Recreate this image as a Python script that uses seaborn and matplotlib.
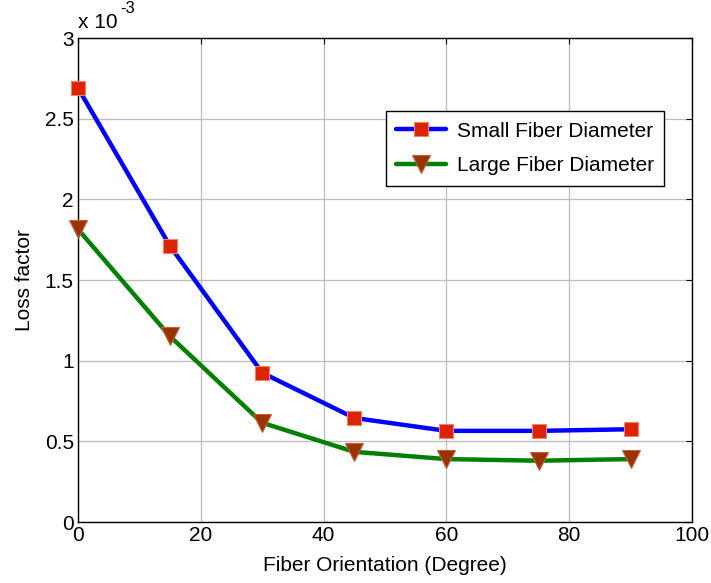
import matplotlib
matplotlib.use("Agg")
import matplotlib.pyplot as plt
from matplotlib.ticker import FuncFormatter
import seaborn as sns
import pandas as pd

orientation = [0, 15, 30, 45, 60, 75, 90]
small_fiber = [2.69e-3, 1.71e-3, 0.925e-3, 0.645e-3, 0.565e-3, 0.565e-3, 0.575e-3]
large_fiber = [1.815e-3, 1.15e-3, 0.615e-3, 0.435e-3, 0.39e-3, 0.38e-3, 0.39e-3]

sns.set_style("white")
plt.rcParams["font.family"] = ["Liberation Sans", "DejaVu Sans"]
plt.rcParams["text.color"] = "black"
plt.rcParams["axes.labelcolor"] = "black"

FS = 15

fig = plt.figure(figsize=(7.11, 5.83), dpi=100)
ax = fig.add_axes([0.1097, 0.1046, 0.8636, 0.8302])

df_s = pd.DataFrame({"x": orientation, "y": small_fiber})
df_l = pd.DataFrame({"x": orientation, "y": large_fiber})

sns.lineplot(data=df_s, x="x", y="y", ax=ax, color="#0000FF", linewidth=3.2,
             marker="s", markersize=10, markerfacecolor="#DD2200",
             markeredgecolor="#F08070", markeredgewidth=0.8,
             label="Small Fiber Diameter", zorder=3, clip_on=False)
sns.lineplot(data=df_l, x="x", y="y", ax=ax, color="#008000", linewidth=3.2,
             marker="v", markersize=13, markerfacecolor="#993300",
             markeredgecolor="#C06040", markeredgewidth=0.8,
             label="Large Fiber Diameter", zorder=3, clip_on=False)

ax.set_xlim(0, 100)
ax.set_ylim(0, 3e-3)
ax.set_xticks([0, 20, 40, 60, 80, 100])
ax.set_yticks([0, 0.5e-3, 1e-3, 1.5e-3, 2e-3, 2.5e-3, 3e-3])
ax.yaxis.set_major_formatter(FuncFormatter(lambda v, p: f"{v*1e3:g}"))
ax.grid(True, color="#BBBBBB", linewidth=0.9)
ax.tick_params(direction="in", length=4, labelsize=FS, top=True, right=True,
               colors="black", width=0.8, pad=3)
for s in ax.spines.values():
    s.set_visible(True)
    s.set_color("black")
    s.set_linewidth(1.0)

ax.set_xlabel("Fiber Orientation (Degree)", fontsize=FS, labelpad=8)
ax.set_ylabel("Loss factor", fontsize=FS, labelpad=8)
ax.text(0.0, 1.012, "x 10", transform=ax.transAxes, fontsize=FS,
        ha="left", va="bottom")
ax.text(0.068, 1.045, "-3", transform=ax.transAxes, fontsize=FS - 3,
        ha="left", va="bottom")

leg = ax.legend(loc="upper left", bbox_to_anchor=(0.5016, 0.849), fontsize=FS,
                frameon=True, fancybox=False, edgecolor="black",
                handlelength=2.4, handletextpad=0.5, borderpad=0.5,
                labelspacing=0.75, borderaxespad=0, framealpha=1)
leg.get_frame().set_linewidth(1.0)

fig.savefig("out.png", dpi=100)
